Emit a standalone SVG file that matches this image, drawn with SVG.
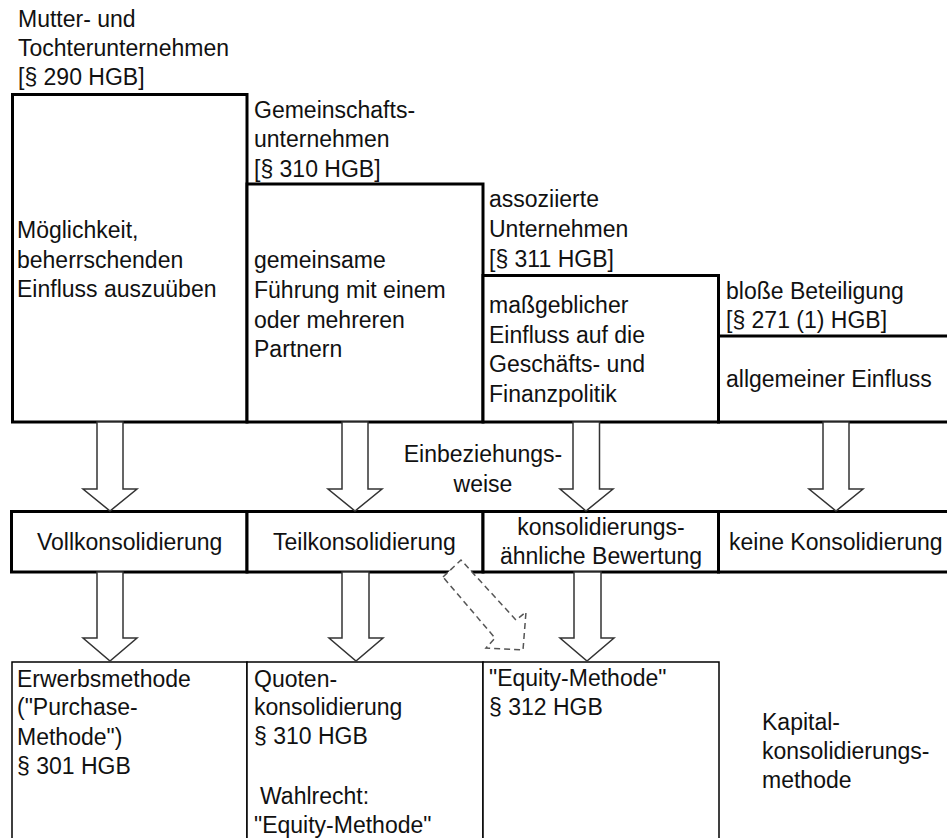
<svg xmlns="http://www.w3.org/2000/svg" width="947" height="838" viewBox="0 0 947 838">
<style>
text{font-family:"Liberation Sans",Arial,sans-serif;font-size:23px;fill:#111}
.thick{fill:#fff;stroke:#000;stroke-width:3}
.thin{fill:#fff;stroke:#000;stroke-width:1.5}
.arr{fill:#fff;stroke:#333;stroke-width:1.5;stroke-linejoin:miter}
.dash{fill:#fff;stroke:#555;stroke-width:1.5;stroke-dasharray:6 4}
.mid{text-anchor:middle}
</style>
<rect width="947" height="838" fill="#fff"/>
<g id="top-row">
<g id="node-mutter">
<rect class="thick" x="12.5" y="94.5" width="234.5" height="327.5"/>
<text x="18" y="27">Mutter- und</text>
<text x="18" y="56">Tochterunternehmen</text>
<text x="18" y="85">[§ 290 HGB]</text>
<text x="17" y="238">Möglichkeit,</text>
<text x="17" y="268">beherrschenden</text>
<text x="17" y="297">Einfluss auszuüben</text>
</g>
<g id="node-gemeinschaft">
<rect class="thick" x="247" y="184" width="236" height="238"/>
<text x="254" y="118">Gemeinschafts-</text>
<text x="254" y="147">unternehmen</text>
<text x="254" y="177">[§ 310 HGB]</text>
<text x="254" y="268">gemeinsame</text>
<text x="254" y="298">Führung mit einem</text>
<text x="254" y="328">oder mehreren</text>
<text x="254" y="357">Partnern</text>
</g>
<g id="node-assoziiert">
<rect class="thick" x="483" y="275.5" width="235.5" height="146.5"/>
<text x="489" y="207">assoziierte</text>
<text x="489" y="237">Unternehmen</text>
<text x="489" y="267">[§ 311 HGB]</text>
<text x="489" y="313">maßgeblicher</text>
<text x="489" y="343">Einfluss auf die</text>
<text x="489" y="372">Geschäfts- und</text>
<text x="489" y="402">Finanzpolitik</text>
</g>
<g id="node-beteiligung">
<rect class="thick" x="718.5" y="336" width="240" height="86"/>
<text x="726" y="299">bloße Beteiligung</text>
<text x="726" y="328">[§ 271 (1) HGB]</text>
<text x="726" y="387">allgemeiner Einfluss</text>
</g>
</g>
<g id="mid-row">
<g id="node-voll">
<rect class="thick" x="11.5" y="511.5" width="235.5" height="60.5"/>
<text x="37" y="550">Vollkonsolidierung</text>
</g>
<g id="node-teil">
<rect class="thick" x="247" y="511.5" width="236" height="60.5"/>
<text x="273" y="550">Teilkonsolidierung</text>
</g>
<g id="node-aehnlich">
<rect class="thick" x="483" y="511.5" width="235.5" height="60.5"/>
<text class="mid" x="601" y="535">konsolidierungs-</text>
<text class="mid" x="601" y="564">ähnliche Bewertung</text>
</g>
<g id="node-keine">
<rect class="thick" x="718.5" y="511.5" width="240" height="60.5"/>
<text x="729" y="550">keine Konsolidierung</text>
</g>
</g>
<g id="label-einbeziehung">
<text class="mid" x="483" y="462">Einbeziehungs-</text>
<text class="mid" x="483" y="492">weise</text>
</g>
<g id="bottom-row">
<g id="node-erwerb">
<rect class="thin" x="12" y="662" width="235" height="190"/>
<text x="17" y="687">Erwerbsmethode</text>
<text x="17" y="715">("Purchase-</text>
<text x="17" y="745">Methode")</text>
<text x="17" y="774">§ 301 HGB</text>
</g>
<g id="node-quoten">
<rect class="thin" x="247" y="662" width="236" height="190"/>
<text x="254" y="687">Quoten-</text>
<text x="254" y="715">konsolidierung</text>
<text x="254" y="744">§ 310 HGB</text>
<text x="260" y="804">Wahlrecht:</text>
<text x="254" y="833">"Equity-Methode"</text>
</g>
<g id="node-equity">
<rect class="thin" x="483" y="662" width="236" height="190"/>
<text x="489" y="686">"Equity-Methode"</text>
<text x="489" y="715">§ 312 HGB</text>
</g>
<g id="label-kapital">
<text x="762" y="730">Kapital-</text>
<text x="762" y="759">konsolidierungs-</text>
<text x="762" y="788">methode</text>
</g>
</g>
<g id="connectors">
<polygon class="arr" points="97,422 123,422 123,489 137,489 110,511 83,489 97,489"/>
<polygon class="arr" points="342,422 368,422 368,489 382,489 355,511 328,489 342,489"/>
<polygon class="arr" points="573,422 599.5,422 599.5,489 613,489 586,511 560,489 573,489"/>
<polygon class="arr" points="823,422 849,422 849,489 863,489 836,511 809,489 823,489"/>
<polygon class="arr" points="97,572 123,572 123,638 137,638 110,661 83,638 97,638"/>
<polygon class="arr" points="342,572 369,572 369,638 383,638 356,661 329,638 342,638"/>
<polygon class="arr" points="574,572 601,572 601,638 614,638 587,661 560,638 574,638"/>
<polygon class="dash" points="443,577 461,560 516,620 526,612 523,650 486,648 495,638"/>
</g>
</svg>
